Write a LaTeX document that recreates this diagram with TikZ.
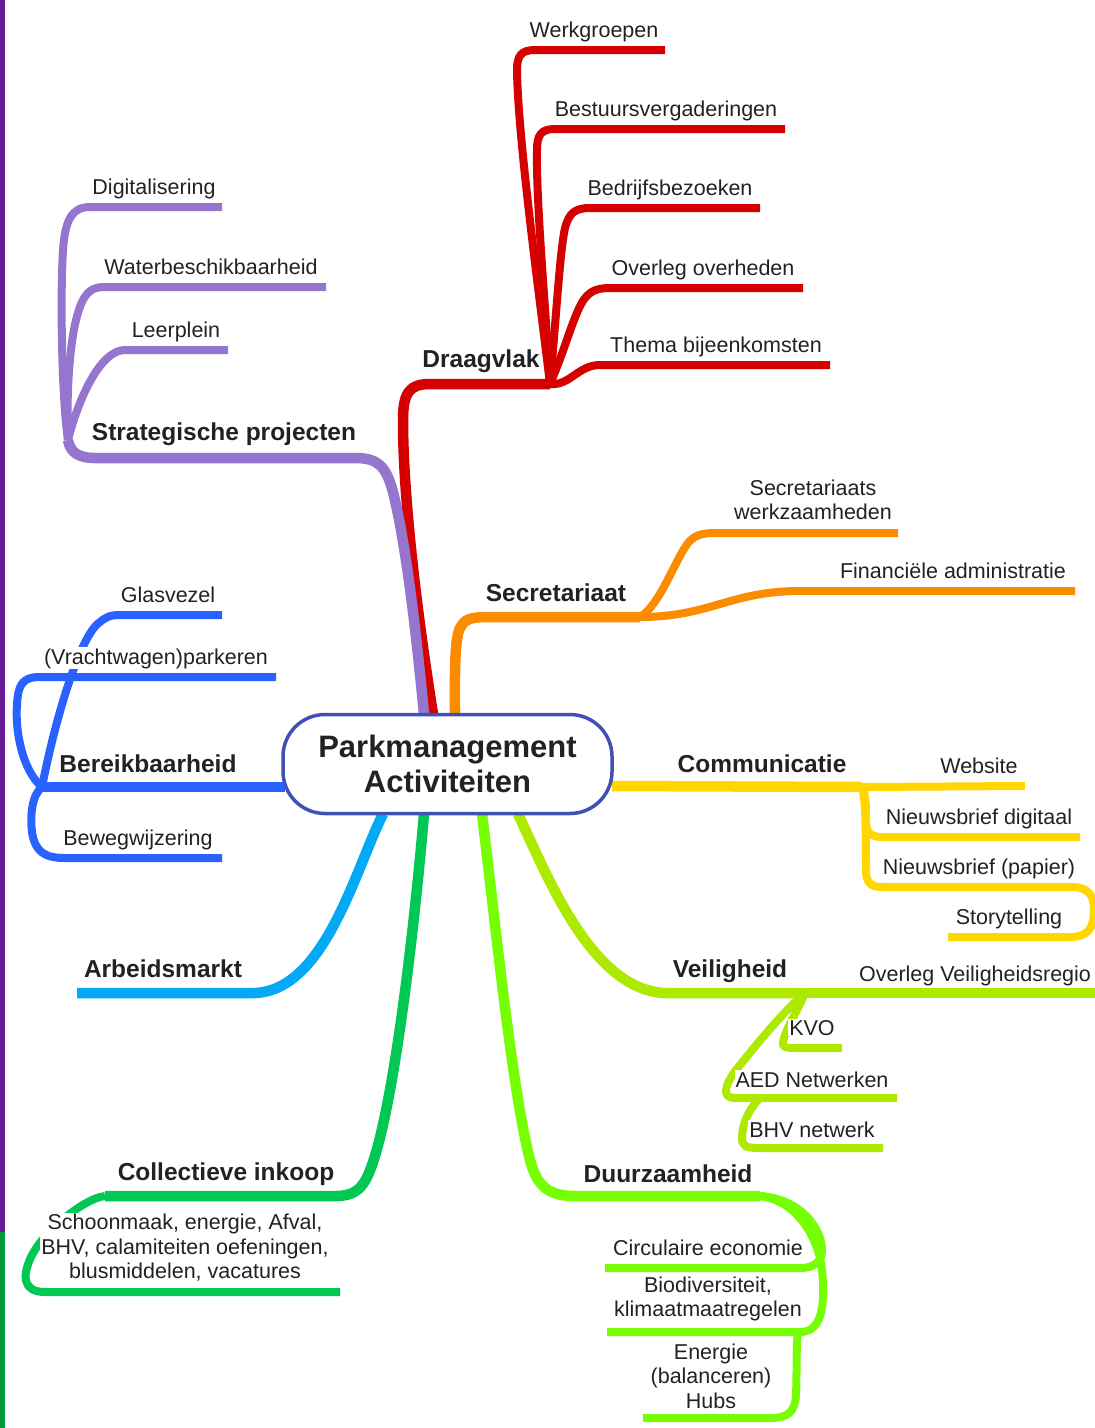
\documentclass[tikz,border=0pt]{standalone}
\usepackage{fontspec}
\setmainfont{Liberation Sans}
\definecolor{cRed}{HTML}{D50000}
\definecolor{cPurple}{HTML}{9575CD}
\definecolor{cOrange}{HTML}{FB8C00}
\definecolor{cBlue}{HTML}{2962FF}
\definecolor{cLBlue}{HTML}{03A9F4}
\definecolor{cGreen}{HTML}{00C853}
\definecolor{cLime}{HTML}{76FF03}
\definecolor{cYGreen}{HTML}{AEEA00}
\definecolor{cYellow}{HTML}{FFD600}
\definecolor{cFrame}{HTML}{3F51B5}
\definecolor{barPurple}{HTML}{6A1B9A}
\definecolor{barGreen}{HTML}{00963F}
\definecolor{txt}{HTML}{222222}
\tikzset{
  br/.style={line width=10.5pt, line cap=butt, line join=round},
  sb/.style={line width=8pt, line cap=butt, line join=round},
  lab/.style={font=\fontsize{21.5}{24.5}\selectfont, text=txt, fill=white, inner sep=1pt, anchor=base},
  mlab/.style={font=\fontsize{21.5}{24.5}\selectfont, text=txt, fill=white, inner sep=1pt, anchor=center, align=center},
  blab/.style={font=\bfseries\fontsize{24.5}{28}\selectfont, text=txt, fill=white, inner sep=1pt, anchor=base},
}
\begin{document}
\begin{tikzpicture}[x=1pt,y=-1pt]
\useasboundingbox (0,0) rectangle (1095,1428);
% left bar
\fill[barPurple] (0,0) rectangle (5,1232);
\fill[barGreen] (0,1232) rectangle (5,1428);

% anchor coordinates
\coordinate (r0) at (433,714);  \coordinate (rj) at (550,384);
\coordinate (p0) at (424,714);  \coordinate (pj) at (68,440);
\coordinate (o0) at (455,714);  \coordinate (oj) at (640,617);
\coordinate (b0) at (285,787);  \coordinate (bj) at (42,787);
\coordinate (a0) at (383,814);  \coordinate (aE) at (77,993);
\coordinate (g0) at (424,814);  \coordinate (gj) at (105,1196);
\coordinate (v0) at (518,814);  \coordinate (vj) at (805,993);
\coordinate (c0) at (612,786);  \coordinate (cj) at (862,787);
\coordinate (d0) at (482,814);  \coordinate (dj) at (760,1196);

% ---- Draagvlak (red)
\draw[br,cRed] (r0) .. controls (418,620) and (403,500) .. (403,420) .. controls (403,392) and (410,384) .. (430,384) -- (rj);
\draw[sb,cRed] (rj) .. controls (540,300) and (518,140) .. (517,70) .. controls (517,56) and (521,50) .. (535,50) -- (665,50) coordinate (rE1);
\draw[sb,cRed] (rj) .. controls (545,300) and (536,200) .. (537,150) .. controls (537,135) and (541,129) .. (555,129) -- (785,129) coordinate (rE2);
\draw[sb,cRed] (rj) .. controls (556,320) and (560,250) .. (565,228) .. controls (569,213) and (575,208) .. (590,208) -- (760,208) coordinate (rE3);
\draw[sb,cRed] (rj) .. controls (565,350) and (575,310) .. (585,298) .. controls (591,291) and (597,288) .. (610,288) -- (803,288) coordinate (rE4);
\draw[sb,cRed] (rj) .. controls (570,386) and (578,365) .. (600,365) -- (830,365) coordinate (rE5);

% ---- Strategische projecten (purple)
\draw[br,cPurple] (p0) .. controls (415,620) and (405,540) .. (393,492) .. controls (386,466) and (378,458) .. (355,458) -- (95,458) .. controls (78,458) and (70,452) .. (pj);
\draw[sb,cPurple] (pj) .. controls (62,400) and (60,300) .. (63,250) .. controls (65,220) and (72,207) .. (90,207) -- (222,207) coordinate (pE1);
\draw[sb,cPurple] (pj) .. controls (66,390) and (70,310) .. (88,293) .. controls (92,289) and (96,287) .. (105,287) -- (326,287) coordinate (pE2);
\draw[sb,cPurple] (pj) .. controls (78,400) and (100,350) .. (125,350) -- (228,350) coordinate (pE3);

% ---- Secretariaat (orange)
\draw[br,cOrange] (o0) .. controls (455,680) and (454,640) .. (460,628) .. controls (465,619) and (470,617) .. (490,617) -- (oj);
\draw[sb,cOrange] (oj) .. controls (660,605) and (675,560) .. (688,543) .. controls (694,536) and (700,533) .. (715,533) -- (898,533) coordinate (oE1);
\draw[sb,cOrange] (oj) .. controls (710,617) and (730,591) .. (800,591) -- (1075,591) coordinate (oE2);

% ---- Bereikbaarheid (blue)
\draw[br,cBlue] (b0) -- (bj);
\draw[sb,cBlue] (bj) .. controls (55,720) and (80,635) .. (100,622) .. controls (106,617) and (110,615) .. (120,615) -- (222,615) coordinate (bE1);
\draw[sb,cBlue] (bj) .. controls (22,770) and (15,730) .. (17,705) .. controls (18,685) and (22,677) .. (40,677) -- (276,677) coordinate (bE2);
\draw[sb,cBlue] (bj) .. controls (32,795) and (30,815) .. (32,832) .. controls (35,852) and (45,858) .. (65,858) -- (222,858) coordinate (bE3);

% ---- Arbeidsmarkt (light blue)
\draw[br,cLBlue] (a0) .. controls (355,870) and (325,990) .. (255,993) -- (aE);

% ---- Collectieve inkoop (green)
\draw[br,cGreen] (g0) .. controls (415,920) and (395,1100) .. (372,1165) .. controls (364,1188) and (356,1196) .. (335,1196) -- (gj);
\draw[sb,cGreen] (gj) .. controls (85,1198) and (45,1230) .. (32,1255) .. controls (22,1275) and (22,1292) .. (45,1292) -- (340,1292) coordinate (gE1);

% ---- Veiligheid (yellow green)
\draw[br,cYGreen] (v0) .. controls (545,870) and (590,990) .. (665,993) -- (vj);
\draw[br,cYGreen] (vj) -- (1095,993) coordinate (vE0);
\draw[sb,cYGreen] (vj) .. controls (798,1010) and (785,1030) .. (783,1042) .. controls (782,1047) and (785,1048) .. (795,1048) -- (842,1048) coordinate (vE1);
\draw[sb,cYGreen] (vj) .. controls (785,1010) and (760,1040) .. (740,1065) .. controls (725,1083) and (720,1098) .. (735,1098) -- (897,1098) coordinate (vE2);
\coordinate (vk) at (760,1098);
\draw[sb,cYGreen] (vk) .. controls (748,1110) and (742,1125) .. (742,1138) .. controls (742,1146) and (746,1148) .. (758,1148) -- (883,1148) coordinate (vE3);

% ---- Communicatie (yellow)
\draw[br,cYellow] (c0) -- (cj);
\draw[sb,cYellow] (cj) -- (1025,786) coordinate (cE1);
\draw[sb,cYellow] (cj) .. controls (866,795) and (866,805) .. (866,820) .. controls (866,832) and (870,837) .. (882,837) -- (1080,837) coordinate (cE2);
\draw[sb,cYellow] (cj) .. controls (866,800) and (866,840) .. (866,870) .. controls (866,882) and (870,887) .. (882,887) -- (1072,887) coordinate (cE3);
\draw[sb,cYellow] (cE3) .. controls (1088,887) and (1094,895) .. (1094,910) .. controls (1094,928) and (1088,937) .. (1070,937) -- (948,937) coordinate (cE4);

% ---- Duurzaamheid (lime)
\draw[br,cLime] (d0) .. controls (495,920) and (512,1090) .. (530,1160) .. controls (537,1186) and (548,1196) .. (575,1196) -- (dj);
\draw[sb,cLime] (dj) .. controls (790,1198) and (812,1215) .. (820,1238) .. controls (826,1258) and (818,1268) .. (800,1268) -- (605,1268) coordinate (dE1);
\draw[sb,cLime] (dj) .. controls (795,1200) and (818,1235) .. (822,1270) .. controls (826,1310) and (820,1332) .. (800,1332) -- (607,1332) coordinate (dE2);
\coordinate (dk) at (798,1332);
\draw[sb,cLime] (dk) .. controls (796,1345) and (797,1370) .. (796,1395) .. controls (795,1412) and (788,1418) .. (770,1418) -- (643,1418) coordinate (dE3);

% ---- labels
\node[lab] (l1) at (594,37) {Werkgroepen};
\node[lab] (l2) at (666,116) {Bestuursvergaderingen};
\node[lab] (l3) at (670,195) {Bedrijfsbezoeken};
\node[lab] (l4) at (703,275) {Overleg overheden};
\node[lab] (l5) at (716,352) {Thema bijeenkomsten};
\node[blab] (L1) at (481,367) {Draagvlak};

\node[lab] (l6) at (154,194) {Digitalisering};
\node[lab] (l7) at (211,274) {Waterbeschikbaarheid};
\node[lab] (l8) at (176,337) {Leerplein};
\node[blab] (L2) at (224,440) {Strategische projecten};

\node[mlab] (l9) at (813,500) {Secretariaats\\werkzaamheden};
\node[lab] (l10) at (953,578) {Financiële administratie};
\node[blab] (L3) at (556,601) {Secretariaat};

\node[lab] (l11) at (168,602) {Glasvezel};
\node[lab] (l12) at (156,664) {(Vrachtwagen)parkeren};
\node[blab] (L4) at (148,772) {Bereikbaarheid};
\node[lab] (l13) at (138,845) {Bewegwijzering};

\node[blab] (L5) at (163,977) {Arbeidsmarkt};

\node[blab] (L6) at (226,1180) {Collectieve inkoop};
\node[mlab] (l14) at (185,1248) {Schoonmaak, energie, Afval,\\BHV, calamiteiten oefeningen,\\blusmiddelen, vacatures};

\node[blab] (L7) at (762,772) {Communicatie};
\node[lab] (l15) at (979,773) {Website};
\node[lab] (l16) at (979,824) {Nieuwsbrief digitaal};
\node[lab] (l17) at (979,874) {Nieuwsbrief (papier)};
\node[lab] (l18) at (1009,924) {Storytelling};

\node[blab] (L8) at (730,977) {Veiligheid};
\node[lab] (l19) at (975,981) {Overleg Veiligheidsregio};
\node[lab] (l20) at (812,1035) {KVO};
\node[lab] (l21) at (812,1087) {AED Netwerken};
\node[lab] (l22) at (812,1137) {BHV netwerk};

\node[blab] (L9) at (668,1182) {Duurzaamheid};
\node[lab] (l23) at (708,1255) {Circulaire economie};
\node[mlab] (l24) at (708,1299) {Biodiversiteit,\\klimaatmaatregelen};
\node[mlab] (l25) at (711,1376) {Energie\\(balanceren)\\Hubs};

% ---- centre
\node[draw=cFrame, line width=3.5pt, fill=white, rounded corners=42pt,
      minimum width=329pt, minimum height=99pt, align=center, text=txt,
      font=\bfseries\fontsize{31}{35}\selectfont] (pm) at (447.5,764) {Parkmanagement\\Activiteiten};
\end{tikzpicture}
\end{document}
